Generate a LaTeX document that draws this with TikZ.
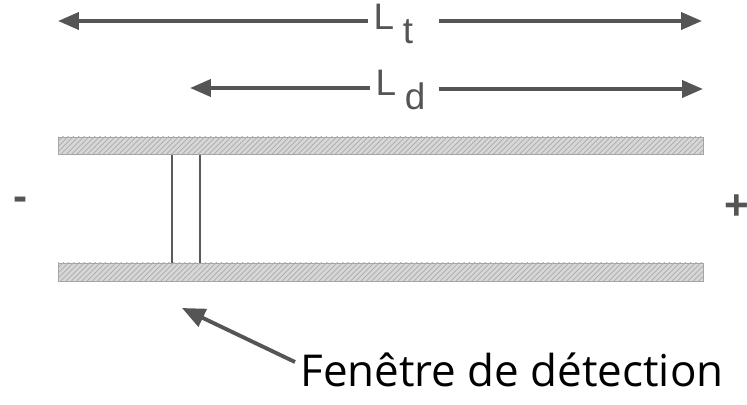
\documentclass[tikz,border=0pt]{standalone}
\usepackage{fontspec}
\setmainfont{Liberation Sans}
\newfontfamily\captionfont{Open Sans}
\usetikzlibrary{arrows.meta,patterns}
\definecolor{arrowGray}{RGB}{85,85,85}
\definecolor{barFill}{RGB}{215,215,215}
\definecolor{barHatch}{RGB}{170,170,170}
\definecolor{barDraw}{RGB}{165,165,165}
\definecolor{wallGray}{RGB}{90,90,90}

\begin{document}
\begin{tikzpicture}[
  x=0.02cm, y=-0.02cm,
  dimarrow/.style={line width=2.2pt, draw=arrowGray, -{Triangle[length=4.2mm, width=3.4mm]}},
  lenlabel/.style={font=\fontsize{21}{24}\selectfont, text=arrowGray, inner sep=3pt},
  bar/.style={fill=barFill, draw=barDraw, line width=0.5pt},
  hatch/.style={pattern=north east lines, pattern color=barHatch},
  wall/.style={draw=wallGray, line width=0.8pt},
  pole/.style={font=\fontsize{24}{26}\selectfont\bfseries, text=arrowGray}
]
\useasboundingbox (0,0) rectangle (747,405);

% Length labels and their arrows.
\node[lenlabel, anchor=west] (lt) at (368,24) {L\hspace{5pt}\raisebox{-8pt}{t}};
\coordinate (ltleft) at (58,21);
\coordinate (ltright) at (702,21);
\draw[dimarrow] (lt.west |- ltleft) -- (ltleft);
\draw[dimarrow] (lt.east |- ltright) ++(20,0) -- (ltright);

\node[lenlabel, anchor=west] (ld) at (370,90) {L\hspace{5pt}\raisebox{-8pt}{d}};
\coordinate (ldleft) at (190,88);
\coordinate (ldright) at (703,89);
\draw[dimarrow] (ld.west |- ldleft) -- (ldleft);
\draw[dimarrow] (ld.east |- ldright) ++(8,0) -- (ldright);

% The tube walls.
\path[bar] (58,137) rectangle (703,154);
\path[hatch] (58,137) rectangle (703,154);
\path[bar] (58,263) rectangle (703,281);
\path[hatch] (58,263) rectangle (703,281);

% Detection window.
\draw[wall] (172,155) -- (172,263);
\draw[wall] (200,155) -- (200,263);

% Poles.
\node[pole] (minus) at (21,204) {-};
\node[pole] (plus) at (737,207) {+};

% Caption and pointer.
\node[font=\captionfont\fontsize{25}{28}\selectfont, anchor=base west, inner sep=0pt] (caption) at (300,386) {Fenêtre de détection};
\coordinate (ptrstart) at (295,362);
\coordinate (window) at (182,308);
\draw[dimarrow, -{Triangle[length=4.6mm, width=3.8mm]}] (ptrstart) -- (window);

\end{tikzpicture}
\end{document}
